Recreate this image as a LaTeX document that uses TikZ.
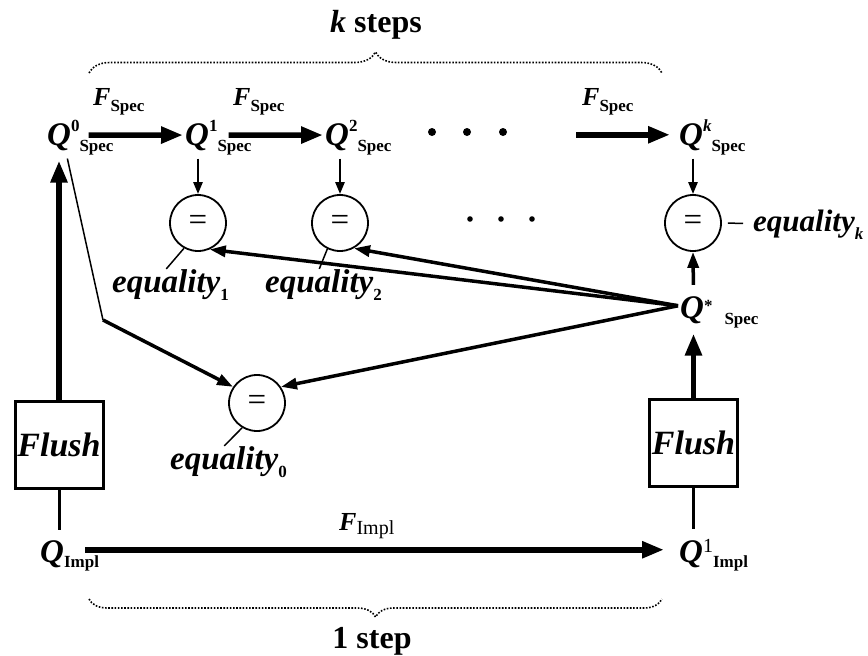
\documentclass[tikz,border=0pt]{standalone}
\usepackage{fontspec}
\setmainfont{Liberation Serif}
\usetikzlibrary{arrows.meta}
\usetikzlibrary{decorations.pathreplacing}
\newcommand{\supsz}{\fontsize{17}{17}\selectfont}
\newcommand{\qstate}[3]{Q\raisebox{#3}{\supsz #1}\rlap{\smash{\raisebox{-6pt}{\supsz\upshape #2}}}}
\tikzstyle{state}=[inner sep=2pt, font=\fontsize{33}{33}\selectfont\bfseries\itshape]
\tikzstyle{eqcircle}=[circle, draw, line width=1.8pt, minimum size=56pt, inner sep=0pt, font=\fontsize{33}{33}\selectfont]
\tikzstyle{eqlabel}=[inner sep=0pt, font=\fontsize{33}{33}\selectfont\bfseries\itshape]
\tikzstyle{flushbox}=[draw, line width=3pt, minimum width=88pt, minimum height=87pt, inner sep=0pt, font=\fontsize{34}{34}\selectfont\bfseries\itshape]
\tikzstyle{flabel}=[inner sep=0pt, font=\fontsize{26}{26}\selectfont\bfseries\itshape]
\tikzstyle{bigarrow}=[draw, line width=5.5pt, -{Triangle[length=22pt,width=16pt]}]
\tikzstyle{midarrow}=[draw, line width=3.5pt, -{Triangle[length=16pt,width=11pt]}]
\tikzstyle{smallarrow}=[draw, line width=2.5pt, -{Triangle[length=12pt,width=9pt]}]
\tikzstyle{stem}=[draw, line width=3pt]
\tikzstyle{labelline}=[draw, line width=1.5pt]
\tikzstyle{stepbrace}=[draw, line width=1.6pt, dash pattern=on 1.6pt off 1.6pt, decorate]
\tikzstyle{steptext}=[font=\fontsize{32}{32}\selectfont\bfseries]

\begin{document}
\begin{tikzpicture}[x=1pt, y=-1pt]
    \useasboundingbox (0,0) rectangle (868,656);

    % The spec states along the top row
    \foreach \pos/\name/\sup in {(45,145)/q0/0, (183,145)/q1/1, (323,145)/q2/2}
        \node[state, anchor=base west] (\name) at \pos {\qstate{\upshape\sup}{Spec}{14pt}};
    \node[state, anchor=base west] (qk) at (677,145) {\qstate{k}{Spec}{14pt}};
    \node[state, anchor=base west] (qs) at (678,318) {\qstate{\upshape *}{\hspace{12pt}Spec}{7pt}};

    % The impl states at the bottom
    \node[state, anchor=base west] (qimpl) at (38,562) {Q\rlap{\smash{\raisebox{-5pt}{\supsz\upshape Impl}}}};
    \node[state, anchor=base west] (qimplone) at (677,562) {Q\raisebox{10pt}{\fontsize{20}{20}\selectfont\mdseries\upshape 1}\rlap{\smash{\raisebox{-5pt}{\supsz\upshape Impl}}}};

    % Equality checks
    \foreach \pos/\name in {(198,223)/eq1, (340,223)/eq2, (693,223)/eqk, (257,403)/eq0}
        \node[eqcircle] (\name) at \pos {=};
    \foreach \pos/\name/\idx in {(112,292)/lab1/1, (265,292)/lab2/2, (170,469)/lab0/0}
        \node[eqlabel, anchor=base west] (\name) at \pos {equality\rlap{\smash{\raisebox{-8pt}{\supsz\upshape\idx}}}};
    \node[eqlabel, font=\fontsize{31}{31}\selectfont\bfseries\itshape, anchor=base west] (labk) at (753,231) {equality\rlap{\smash{\raisebox{-8pt}{\supsz k}}}};

    % Flush boxes
    \node[flushbox] (flushL) at (59,444.5) {Flush};
    \node[flushbox] (flushR) at (693.5,442.5) {Flush};

    % Dots
    \foreach \x in {432,467,503}
        \fill (\x,132) circle (4pt);
    \foreach \x in {470,501,532}
        \fill (\x,219) circle (2.8pt);

    % Function labels
    \foreach \pos/\name in {(93,105)/fa, (233,105)/fb, (582,105)/fc}
        \node[flabel, anchor=base west] (\name) at \pos {F\rlap{\smash{\raisebox{-6pt}{\supsz\upshape Spec}}}};
    \node[flabel, anchor=base west] (fimpl) at (339,530) {F\rlap{\smash{\raisebox{-4pt}{\fontsize{20}{20}\selectfont\mdseries\upshape Impl}}}};

    % Spec steps
    \draw[bigarrow, shorten <=7pt] (q0) -- (q1);
    \draw[bigarrow, shorten <=9pt] (q1) -- (q2);
    \path (qk.west) ++(-101,0) coordinate (dotsend);
    \draw[bigarrow, shorten >=7pt] (dotsend) -- (qk.west);
    \foreach \src/\dest in {q1/eq1, q2/eq2, qk/eqk}
        \draw[smallarrow, shorten <=6pt] (\dest.north |- \src.south) -- (\dest.north);

    % Flushed state compared to every spec state
    \foreach \dest/\ang in {eq1/-66, eq2/-61, eq0/34}
        \draw[midarrow] ([yshift=4pt]qs.west) -- (\dest.\ang);
    \draw[midarrow, shorten <=9pt] (flushR.north |- qs.north) -- (eqk.south);
    \coordinate (bend) at (103,320);
    \draw[labelline] ([xshift=4pt, yshift=-6pt]q0.south) -- (bend);
    \draw[midarrow] (bend) -- (eq0.146);

    % Flushing
    \draw[bigarrow, shorten >=8pt] (flushL.north) -- (flushL.north |- q0.south);
    \draw[bigarrow, shorten >=8pt] (flushR.north) -- (flushR.north |- qs.south);
    \draw[stem, shorten >=8pt] (flushL.south) -- (flushL.south |- qimpl.north);
    \draw[stem, shorten >=8pt] (flushR.south) -- (flushR.south |- qimplone.north);

    % Impl step
    \draw[bigarrow, shorten <=19pt, shorten >=13pt] ([yshift=4pt]qimpl.east) -- ([yshift=4pt]qimpl.east -| qimplone.west);

    % Labels of the equality checks
    \foreach \circ/\ang/\lab in {eq1/241/lab1, eq2/244/lab2, eq0/239/lab0}
        \draw[labelline] (\circ.\ang) -- (\lab.north);
    \draw[labelline, shorten <=6pt, shorten >=10pt] (eqk.east) -- (labk.west);

    % Braces
    \draw[stepbrace, decoration={brace, amplitude=21pt}] (89,73) -- (662,73);
    \draw[stepbrace, decoration={brace, mirror, amplitude=18pt}] (89,599) -- (662,599);
    \node[steptext, anchor=base] (ksteps) at (376,32) {\textit{k} steps};
    \node[steptext, anchor=base] (onestep) at (372,648) {1 step};
\end{tikzpicture}
\end{document}
